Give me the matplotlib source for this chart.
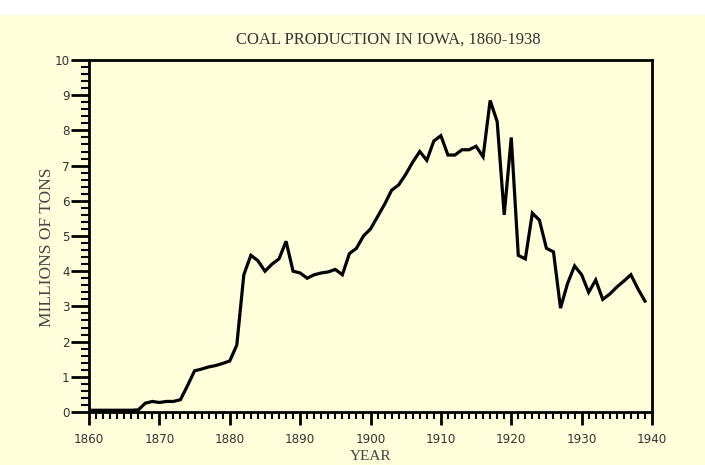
import matplotlib
matplotlib.use("Agg")
import matplotlib.pyplot as plt
from matplotlib.ticker import MultipleLocator
from matplotlib.patches import Rectangle
from matplotlib import font_manager

years = list(range(1860, 1940))
production = [
    0.05, 0.05, 0.05, 0.05, 0.05, 0.05, 0.05, 0.06,   # 1860-1867
    0.25, 0.30, 0.27, 0.30, 0.30, 0.35, 0.75, 1.17,   # 1868-1875
    1.22, 1.28, 1.32, 1.38, 1.45, 1.90, 3.90, 4.45,   # 1876-1883
    4.30, 4.00, 4.20, 4.35, 4.85, 4.00, 3.95, 3.80,   # 1884-1891
    3.90, 3.95, 3.98, 4.05, 3.90, 4.50, 4.65, 5.00,   # 1892-1899
    5.20, 5.55, 5.90, 6.30, 6.45, 6.75, 7.10, 7.40,   # 1900-1907
    7.15, 7.70, 7.85, 7.30, 7.30, 7.45, 7.45, 7.55,   # 1908-1915
    7.25, 8.85, 8.25, 5.60, 7.80, 4.45, 4.35, 5.65,   # 1916-1923
    5.45, 4.65, 4.55, 2.95, 3.65, 4.15, 3.90, 3.40,   # 1924-1931
    3.75, 3.20, 3.35, 3.55, 3.72, 3.90, 3.50, 3.15,   # 1932-1939
]

title = "COAL PRODUCTION IN IOWA, 1860-1938"
xlabel = "YEAR"
ylabel = "MILLIONS OF TONS"
xticks = list(range(1860, 1941, 10))
yticks = list(range(0, 11))

# pick an upright condensed sans for tick labels if available
names = {f.name for f in font_manager.fontManager.ttflist}
cond = None
for f in font_manager.fontManager.ttflist:
    if (f.name == "DejaVu Sans" and f.stretch == "condensed"
            and f.style == "normal" and f.weight in (400, "normal", "regular")):
        cond = f.fname
        break
if "Liberation Sans Narrow" in names:
    tickprops = dict(family="Liberation Sans Narrow", size=10)
elif cond:
    tickprops = dict(fname=cond, size=9.5)
else:
    tickprops = dict(family="DejaVu Sans", size=8.5)
tickfp = font_manager.FontProperties(**tickprops)

cream = "#FFFFDC"
W, H = 705, 465
fig = plt.figure(figsize=(W / 100, H / 100), dpi=100, facecolor="white")
fig.patches.append(Rectangle((0, 0), 1, 1 - 15 / H, transform=fig.transFigure,
                             facecolor=cream, edgecolor="none", zorder=-10))

ax = fig.add_axes([89 / W, 1 - 412 / H, (652 - 89) / W, (412 - 60) / H])
ax.set_facecolor(cream)
ax.plot(years, production, color="black", lw=2.3, solid_joinstyle="miter")

ax.set_xlim(1860, 1940)
ax.set_ylim(0, 10)
ax.set_xticks(xticks)
ax.set_yticks(yticks)
ax.xaxis.set_minor_locator(MultipleLocator(1))
ax.yaxis.set_minor_locator(MultipleLocator(0.2))

for s in ax.spines.values():
    s.set_linewidth(2.0)
    s.set_color("black")

ax.tick_params(axis="x", which="major", direction="out", length=9, width=2.0,
               pad=6, labelcolor="#333333")
ax.tick_params(axis="x", which="minor", direction="out", length=5, width=1.5)
ax.tick_params(axis="y", which="major", direction="out", length=13, width=2.0,
               pad=1, labelcolor="#333333")
ax.tick_params(axis="y", which="minor", direction="out", length=6, width=1.5)
for lab in ax.get_xticklabels() + ax.get_yticklabels():
    lab.set_fontproperties(tickfp)

serif = ["Liberation Serif", "DejaVu Serif"]
fig.text(388 / W, 1 - 40 / H, title, ha="center", va="center",
         fontsize=12, family=serif, color="#333333")
fig.text(371 / W, 1 - 456 / H, xlabel, ha="center", va="center",
         fontsize=11, family=serif, color="#444444")
fig.text(47 / W, 1 - 247 / H, ylabel, ha="center", va="center", rotation=90,
         fontsize=12.5, family=serif, color="#444444")

fig.savefig("out.png", dpi=100, facecolor=fig.get_facecolor())
